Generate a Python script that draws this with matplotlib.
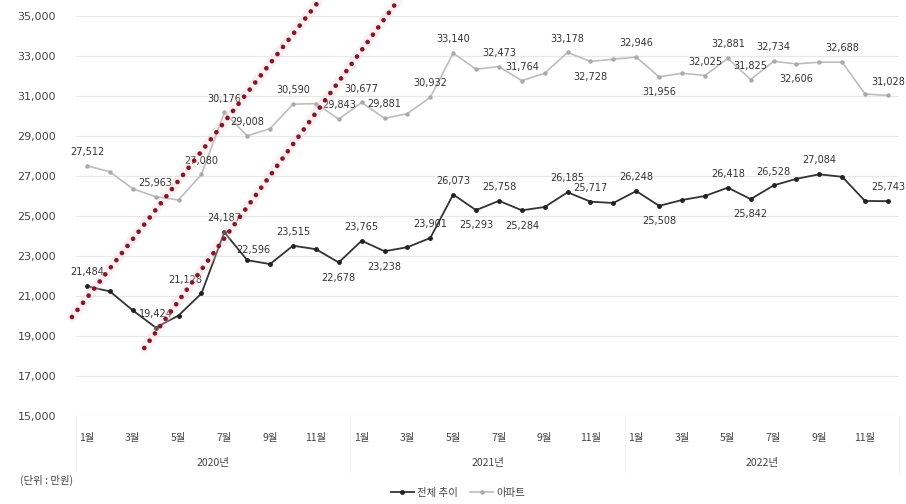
import matplotlib
matplotlib.use("Agg")
import matplotlib.pyplot as plt
import numpy as np

plt.rcParams['font.family'] = ['Noto Sans CJK KR', 'DejaVu Sans']

months = [f"{m}월" for m in range(1, 13)] * 3
years = ["2020년", "2021년", "2022년"]

total = [21484, 21230, 20280, 19424, 20025, 21128, 24187, 22790, 22596, 23515, 23340, 22678,
         23765, 23238, 23440, 23901, 26073, 25293, 25758, 25284, 25450, 26185, 25717, 25650,
         26248, 25508, 25800, 26000, 26418, 25842, 26528, 26860, 27084, 26960, 25750, 25743]
apt = [27512, 27210, 26360, 25963, 25800, 27080, 30176, 29008, 29370, 30590, 30620, 29843,
       30677, 29881, 30120, 30932, 33140, 32340, 32473, 31764, 32140, 33178, 32728, 32840,
       32946, 31956, 32140, 32025, 32881, 31825, 32734, 32606, 32690, 32688, 31100, 31028]

# which points carry a value label, and where (a = above, b = below, l = above-left)
total_labels = {0: 'a', 3: 'a', 5: 'l', 6: 'a', 8: 'l', 9: 'a', 11: 'b', 12: 'a', 13: 'b',
                15: 'a', 16: 'a', 17: 'b', 18: 'a', 19: 'b', 21: 'a', 22: 'a', 24: 'a',
                25: 'b', 28: 'a', 29: 'b', 30: 'a', 32: 'a', 35: 'a'}
apt_labels = {0: 'a', 3: 'a', 5: 'a', 6: 'a', 7: 'a', 9: 'a', 11: 'a', 12: 'a', 13: 'a',
              15: 'a', 16: 'a', 18: 'a', 19: 'a', 21: 'a', 22: 'b', 24: 'a', 25: 'b',
              27: 'a', 28: 'a', 29: 'a', 30: 'a', 31: 'b', 33: 'a', 35: 'a'}

series_names = ["전체 추이", "아파트"]
unit_text = "(단위 : 만원)"

# red dotted annotation guides (data coords: x index, value)
guide1 = ([-0.66, 10.1], [19950, 35700])
guide2 = ([2.5, 13.6], [18400, 35800])

W, H = 906, 504
fig = plt.figure(figsize=(W / 100, H / 100), dpi=100)
ax = fig.add_axes([75.6 / W, 1 - 416 / H, (899.4 - 75.6) / W, (416 - 16) / H])

x = np.arange(len(total))
ax.set_xlim(-0.5, len(total) - 0.5)
ax.set_ylim(15000, 35000)
yt = np.arange(15000, 35001, 2000)
ax.set_yticks(yt)
ax.set_yticklabels([f"{v:,}" for v in yt], fontsize=8, color='#444444', family='DejaVu Sans')
for v in yt:
    ax.axhline(v, color='#e8e8e8', lw=0.9, zorder=0)
ax.tick_params(axis='y', length=0, pad=14)
ax.set_xticks(x[::2])
ax.set_xticklabels(months[::2], fontsize=7.5, color='#444444')
ax.tick_params(axis='x', length=0, pad=12)
for s in ax.spines.values():
    s.set_visible(False)

# year labels and separators
for i, yname in enumerate(years):
    ax.text(5.5 + 12 * i, -0.118, yname, transform=ax.get_xaxis_transform(),
            ha='center', va='center', fontsize=7.5, color='#444444')
for b in [-0.5, 11.5, 23.5, 35.5]:
    ax.plot([b, b], [0, -0.14], transform=ax.get_xaxis_transform(), color='#f3f3f3',
            lw=0.8, clip_on=False)

ax.plot(x, apt, color='#bdbdbd', lw=1.2, marker='o', ms=2.2, mfc='#aaaaaa', mec='#aaaaaa',
        zorder=3, label=series_names[1])
ax.plot(x, total, color='#333333', lw=1.3, marker='o', ms=2.5, mfc='#222222', mec='#222222',
        zorder=4, label=series_names[0])

offsets = {'a': (0, 10), 'b': (0, -11), 'l': (-12, 10)}
for series, labs in [(total, total_labels), (apt, apt_labels)]:
    for i, pos in labs.items():
        ax.annotate(f"{series[i]:,}", (x[i], series[i]), xytext=offsets[pos],
                    textcoords='offset points', ha='center', va='center',
                    fontsize=7, color='#333333', family='DejaVu Sans', zorder=6)

for gx, gy in [guide1, guide2]:
    ax.plot(gx, gy, color='#f6cdd3', lw=7, alpha=0.3, solid_capstyle='round',
            clip_on=False, zorder=7)
    ax.plot(gx, gy, color='#7e1a2a', lw=3.4, linestyle=(0, (0.01, 1.9)),
            dash_capstyle='round', clip_on=False, zorder=8)

fig.text(20 / W, 1 - 480 / H, unit_text, fontsize=7.5, color='#444444', va='center')

handles, labels = ax.get_legend_handles_labels()
leg = fig.legend(handles[::-1], labels[::-1], loc='center', bbox_to_anchor=(458 / W, 1 - 493 / H),
                 ncol=2, frameon=False, fontsize=7.5, handlelength=2.2, columnspacing=1.2,
                 handletextpad=0.3)
for t in leg.get_texts():
    t.set_color('#444444')

fig.savefig("out.png", dpi=100)
